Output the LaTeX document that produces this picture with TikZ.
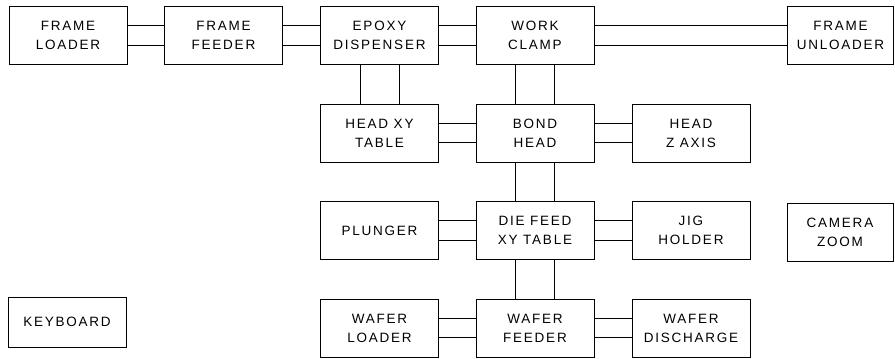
\documentclass[tikz,border=0pt]{standalone}
\usepackage{fontspec}
\setmainfont{Liberation Sans}[LetterSpace=13]
\begin{document}
\begin{tikzpicture}[x=1pt,y=-1pt,
  blk/.style={draw, line width=1pt, minimum width=118pt, minimum height=58pt,
    inner sep=0pt, align=center, font=\fontsize{13.5}{19}\selectfont},
  narrow/.style={minimum width=106pt},
  link/.style={line width=1pt}]
\useasboundingbox (0,0) rectangle (895,359);
% row 1
\node[blk] (loader)   at (68,35.5)    {FRAME\\LOADER};
\node[blk] (feeder)   at (223.5,35.5) {FRAME\\FEEDER};
\node[blk] (epoxy)    at (379.5,35.5) {EPOXY\\DISPENSER};
\node[blk] (clamp)    at (535,35.5)   {WORK\\CLAMP};
\node[blk,narrow] (unloader) at (840.5,35.5) {FRAME\\UNLOADER};
% row 2
\node[blk] (headxy)   at (379.5,133)  {HEAD XY\\TABLE};
\node[blk] (bond)     at (535,133)    {BOND\\HEAD};
\node[blk] (headz)    at (691,133)    {HEAD\\Z AXIS};
% row 3
\node[blk] (plunger)  at (379.5,230.5) {PLUNGER};
\node[blk] (diefeed)  at (535,230.5)   {DIE FEED\\XY TABLE};
\node[blk] (jig)      at (691,230.5)   {JIG\\HOLDER};
\node[blk,narrow] (camera) at (840,232) {CAMERA\\ZOOM};
% row 4
\node[blk, minimum height=50pt] (keyboard) at (67,322) {KEYBOARD};
\node[blk] (wloader)  at (379.5,328)  {WAFER\\LOADER};
\node[blk] (wfeeder)  at (535,328)    {WAFER\\FEEDER};
\node[blk] (wdisch)   at (691,328)    {WAFER\\DISCHARGE};
% horizontal double links
\foreach \a/\b in {loader/feeder, feeder/epoxy, epoxy/clamp, clamp/unloader,
                   headxy/bond, bond/headz, plunger/diefeed, diefeed/jig,
                   wloader/wfeeder, wfeeder/wdisch}{
  \draw[link] ([yshift=9.75pt]\a.east) -- ([yshift=9.75pt]\b.west);
  \draw[link] ([yshift=-9.75pt]\a.east) -- ([yshift=-9.75pt]\b.west);
}
% vertical double links
\foreach \a/\b in {epoxy/headxy, clamp/bond, bond/diefeed, diefeed/wfeeder}{
  \draw[link] ([xshift=-19.5pt]\a.south) -- ([xshift=-19.5pt]\b.north);
  \draw[link] ([xshift=19.5pt]\a.south) -- ([xshift=19.5pt]\b.north);
}
\end{tikzpicture}
\end{document}
